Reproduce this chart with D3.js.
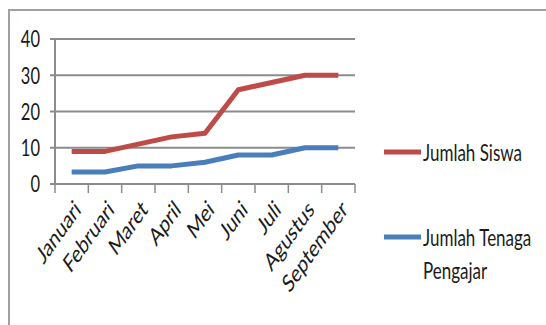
<!DOCTYPE html>
<html><head><meta charset="utf-8">
<script src="https://cdn.jsdelivr.net/npm/d3@7"></script>
<style>body{margin:0;background:#fff}svg{display:block}text{font-family:Lato,"Open Sans",sans-serif;fill:#1a1a1a}</style>
</head><body>
<script>
const months = ["Januari","Februari","Maret","April","Mei","Juni","Juli","Agustus","September"];
const siswa = [9,9,11,13,14,26,28,30,30];
const pengajar = [3.3,3.3,5,5,6,8,8,10,10];
const yTicks = [0,10,20,30,40];
const seriesNames = ["Jumlah Siswa","Jumlah Tenaga Pengajar"];
const colors = ["#BE4B48","#4A7EBB"];

const W=546,H=325, SY=1.4;
const svg=d3.select("body").append("svg").attr("width",W).attr("height",H);
svg.append("path").attr("d",`M9,${H} L9,10 L${W},10`).attr("fill","none").attr("stroke","#a0a0a0").attr("stroke-width",2);

const x=d3.scaleBand().domain(months).range([55,355]);
const y=d3.scaleLinear().domain([0,40]).range([184,39]);

// gridlines
svg.append("g").selectAll("line").data(yTicks).join("line")
  .attr("x1",50).attr("x2",355).attr("y1",d=>y(d)).attr("y2",d=>y(d))
  .attr("stroke","#8c8c8c").attr("stroke-width",2);
// y axis line
svg.append("line").attr("x1",55).attr("x2",55).attr("y1",y(40)).attr("y2",y(0)).attr("stroke","#8c8c8c").attr("stroke-width",2);
// x ticks
const tickX = months.map(m=>x(m)).concat([x.range()[1]]);
svg.append("g").selectAll("line").data(tickX).join("line")
  .attr("x1",d=>d).attr("x2",d=>d).attr("y1",y(0)).attr("y2",y(0)+9)
  .attr("stroke","#8c8c8c").attr("stroke-width",1.5);
// y labels
svg.append("g").selectAll("text").data(yTicks).join("text")
  .attr("transform",d=>`translate(40,${y(d)}) scale(1,${SY})`)
  .attr("text-anchor","end").attr("dy","0.36em").attr("font-size",16.5).text(d=>d);
// x labels
svg.append("g").selectAll("text").data(months).join("text")
  .attr("transform",d=>`translate(${x(d)+x.bandwidth()/2+6},205) scale(1,${SY}) rotate(-45)`)
  .attr("text-anchor","end").attr("dy","0.35em").attr("font-size",17.5).text(d=>d);

const line=d3.line().x((d,i)=>x(months[i])+x.bandwidth()/2).y(d=>y(d));
[siswa,pengajar].forEach((s,i)=>{
  svg.append("path").attr("d",line(s)).attr("fill","none").attr("stroke",colors[i]).attr("stroke-width",5).attr("stroke-linejoin","round");
});

// legend
const leg=[{y:152,lines:["Jumlah Siswa"]},{y:237,lines:["Jumlah Tenaga","Pengajar"]}];
leg.forEach((l,i)=>{
  svg.append("line").attr("x1",384).attr("x2",421).attr("y1",l.y).attr("y2",l.y).attr("stroke",colors[i]).attr("stroke-width",5);
  l.lines.forEach((t,j)=>{
    svg.append("text").attr("transform",`translate(423,${l.y+j*33}) scale(1,${SY})`)
      .attr("dy","0.36em").attr("font-size",17).text(t);
  });
});
</script>
</body></html>
